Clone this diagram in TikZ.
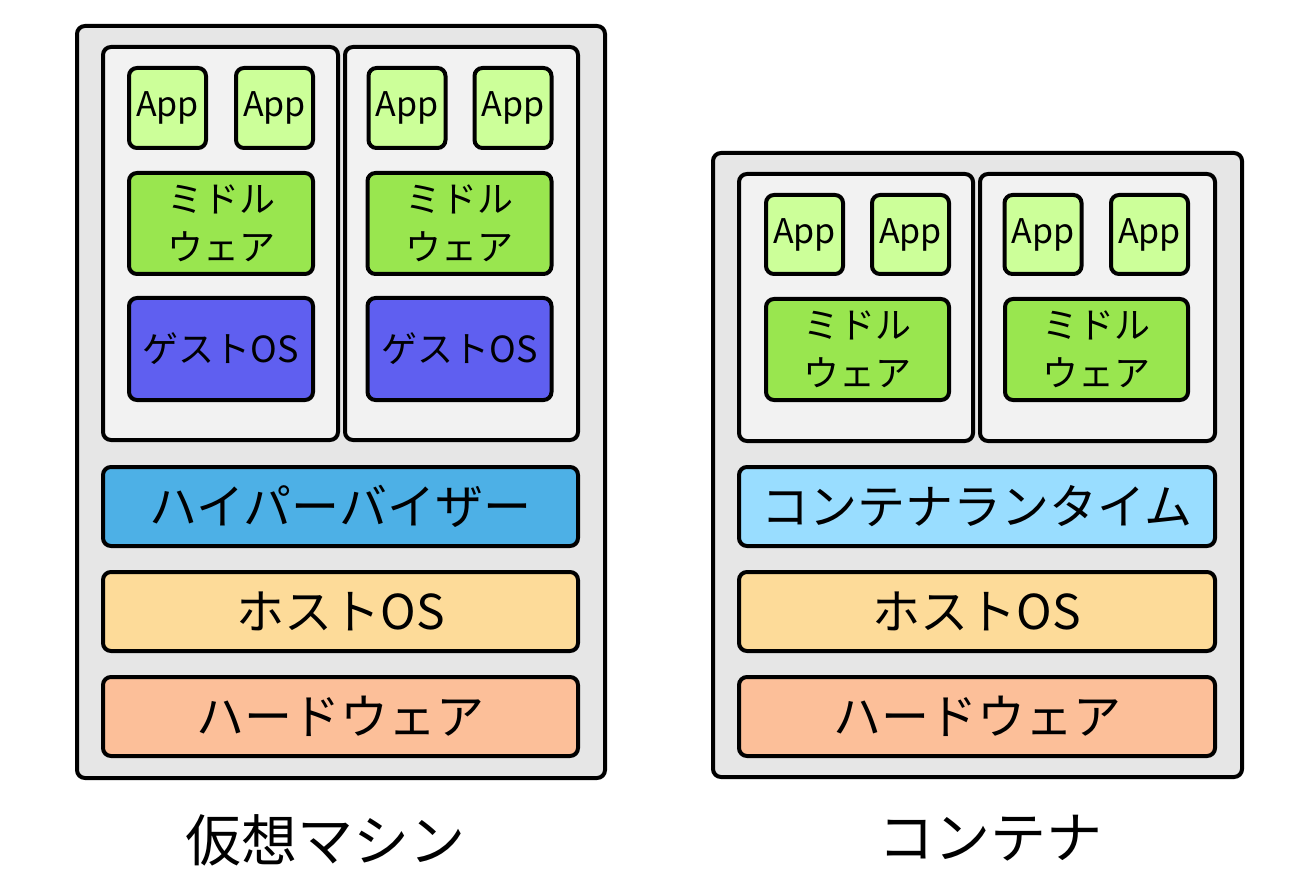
\documentclass[tikz,border=0pt]{standalone}
\usepackage{fontspec}
\setmainfont{Noto Sans CJK JP}
\definecolor{frameGray}{HTML}{E6E6E6}
\definecolor{panelGray}{HTML}{F2F2F2}
\definecolor{appGreen}{HTML}{CCFF99}
\definecolor{mwGreen}{HTML}{99E64F}
\definecolor{guestBlue}{HTML}{5F5FF0}
\definecolor{hvBlue}{HTML}{4DB0E6}
\definecolor{rtBlue}{HTML}{99DDFF}
\definecolor{hostYellow}{HTML}{FDDB99}
\definecolor{hwOrange}{HTML}{FCBF99}
\tikzset{box/.style={draw,line width=4pt,rounded corners=8pt,inner sep=0pt}}
\tikzset{frame/.style={box,fill=frameGray}}
\tikzset{panel/.style={box,fill=panelGray,minimum height=393pt}}
\tikzset{app/.style={box,fill=appGreen,minimum width=77pt,minimum height=80pt,font=\fontsize{34}{38}\selectfont}}
\tikzset{mw/.style={box,fill=mwGreen,minimum width=184pt,minimum height=101pt,align=center,font=\fontsize{36}{48}\selectfont}}
\tikzset{guest/.style={box,fill=guestBlue,minimum width=184pt,minimum height=102pt,font=\fontsize{36}{40}\selectfont}}
\tikzset{layer/.style={box,minimum width=475pt,minimum height=79pt,font=\fontsize{48}{54}\selectfont}}
\tikzset{caption/.style={font=\fontsize{56}{62}\selectfont}}

\begin{document}
\begin{tikzpicture}[x=1pt,y=-1pt]
    \useasboundingbox (0,0) rectangle (1300,890);
    % virtual machine
    \node[frame,minimum width=528pt,minimum height=752pt] (vm) at (341,402) {};
    \node[panel,minimum width=235pt] (vmL) at (220.5,243.5) {};
    \node[panel,minimum width=233pt] (vmR) at (461.5,243.5) {};
    \node[app] (vmAppA) at (167.5,108) {App};
    \node[app] (vmAppB) at (274.5,108) {App};
    \node[app] (vmAppC) at (407,108) {App};
    \node[app] (vmAppD) at (513,108) {App};
    \node[mw] (vmMwL) at (221,223.5) {ミドル\\ウェア};
    \node[mw] (vmMwR) at (459.5,223.5) {ミドル\\ウェア};
    \node[guest] (guestL) at (221,349) {ゲストOS};
    \node[guest] (guestR) at (459.5,349) {ゲストOS};
    \node[layer,fill=hvBlue] (hv) at (340.5,506.5) {ハイパーバイザー};
    \node[layer,fill=hostYellow] (vmHost) at (340.5,611.5) {ホストOS};
    \node[layer,fill=hwOrange] (vmHw) at (340.5,716.5) {ハードウェア};
    \node[caption] (vmCap) at (325,840) {仮想マシン};
    % container
    \node[frame,minimum width=529pt,minimum height=624pt] (ct) at (977.5,465) {};
    \node[panel,minimum width=234pt,minimum height=267pt] (ctL) at (856,307.5) {};
    \node[panel,minimum width=235pt,minimum height=267pt] (ctR) at (1097.5,307.5) {};
    \node[app,minimum height=79pt] (ctAppA) at (804.5,234.5) {App};
    \node[app,minimum height=79pt] (ctAppB) at (910.5,234.5) {App};
    \node[app,minimum height=79pt] (ctAppC) at (1043,234.5) {App};
    \node[app,minimum height=79pt] (ctAppD) at (1149.5,234.5) {App};
    \node[mw,minimum width=183pt] (ctMwL) at (857.5,349.5) {ミドル\\ウェア};
    \node[mw,minimum width=183pt] (ctMwR) at (1096.5,349.5) {ミドル\\ウェア};
    \node[layer,fill=rtBlue,minimum width=476pt] (rt) at (977,506.5) {コンテナランタイム};
    \node[layer,fill=hostYellow,minimum width=476pt] (ctHost) at (977,611.5) {ホストOS};
    \node[layer,fill=hwOrange,minimum width=476pt] (ctHw) at (977,716.5) {ハードウェア};
    \node[caption] (ctCap) at (990,838) {コンテナ};
\end{tikzpicture}
\end{document}
